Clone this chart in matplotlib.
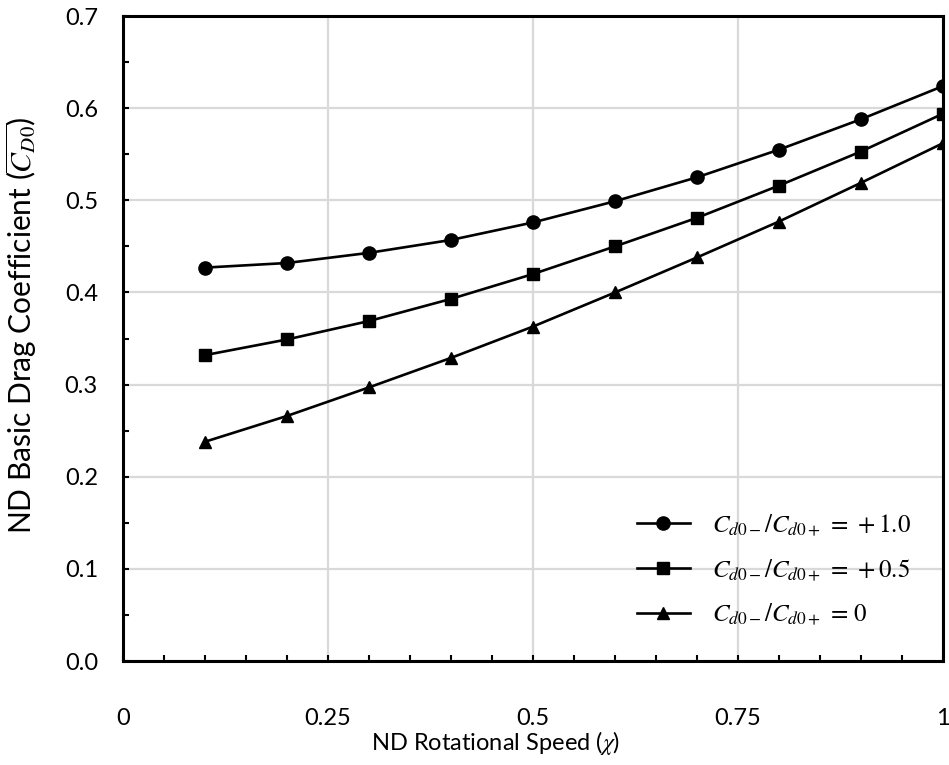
import numpy as np
import matplotlib
matplotlib.use('Agg')
import matplotlib.pyplot as plt
from matplotlib.ticker import MultipleLocator

plt.rcParams['font.family'] = ['Lato', 'DejaVu Sans']
plt.rcParams['mathtext.fontset'] = 'stix'

chi = [0.1, 0.2, 0.3, 0.4, 0.5, 0.6, 0.7, 0.8, 0.9, 1.0]
cd_r10 = [0.427, 0.432, 0.443, 0.457, 0.476, 0.499, 0.525, 0.555, 0.588, 0.624]
cd_r05 = [0.332, 0.349, 0.369, 0.393, 0.420, 0.450, 0.481, 0.516, 0.553, 0.594]
cd_r00 = [0.238, 0.266, 0.297, 0.329, 0.363, 0.400, 0.438, 0.477, 0.519, 0.562]

xticks = [0, 0.25, 0.5, 0.75, 1.0]
xticklabels = ['0', '0.25', '0.5', '0.75', '1']
yticks = [0, 0.1, 0.2, 0.3, 0.4, 0.5, 0.6, 0.7]

labels = [r'$C_{d0-}/C_{d0+}\,=\,+1.0$',
          r'$C_{d0-}/C_{d0+}\,=\,+0.5$',
          r'$C_{d0-}/C_{d0+}\,=\,0$']

fig = plt.figure(1, [9.49, 7.65], dpi=100)
ax = fig.add_axes([0.1296, 0.1359, 0.8640, 0.8431])

ax.plot(chi, cd_r10, 'k-', marker='o', ms=9.5, lw=1.9, label=labels[0])
ax.plot(chi, cd_r05, 'k-', marker='s', ms=8.5, lw=1.9, label=labels[1])
ax.plot(chi, cd_r00, 'k-', marker='^', ms=9, lw=1.9, label=labels[2])

ax.set_xlim(0, 1)
ax.set_ylim(0, 0.7)
ax.set_xticks(xticks)
ax.set_xticklabels(xticklabels)
ax.set_yticks(yticks)
ax.set_yticklabels(['%.1f' % v for v in yticks])
ax.xaxis.set_minor_locator(MultipleLocator(0.05))
ax.yaxis.set_minor_locator(MultipleLocator(0.05))
ax.grid(True, which='major', color='#d9d9d9', lw=1.6)
ax.set_axisbelow(True)

ax.tick_params(which='both', direction='in', length=4, width=1.5,
               top=False, right=False, labelsize=17)
ax.tick_params(axis='x', which='major', pad=34)
ax.tick_params(axis='y', which='major', pad=18)
for s in ax.spines.values():
    s.set_linewidth(2.2)
    s.set_color('black')

ax.set_xlabel(r'ND Rotational Speed ($\chi$)', fontsize=17)
ax.set_ylabel(r'ND Basic Drag Coefficient ($\overline{C_{D0}}$)', fontsize=21.5)
ax.xaxis.set_label_coords(0.455, -0.105)
ax.yaxis.set_label_coords(-0.103, 0.52)

leg = ax.legend(loc='upper left', bbox_to_anchor=(0.627, 0.231), frameon=False,
                fontsize=18, handlelength=2.1, labelspacing=0.75, handletextpad=0.9,
                borderpad=0, borderaxespad=0)

plt.savefig('out.png', dpi=100)
